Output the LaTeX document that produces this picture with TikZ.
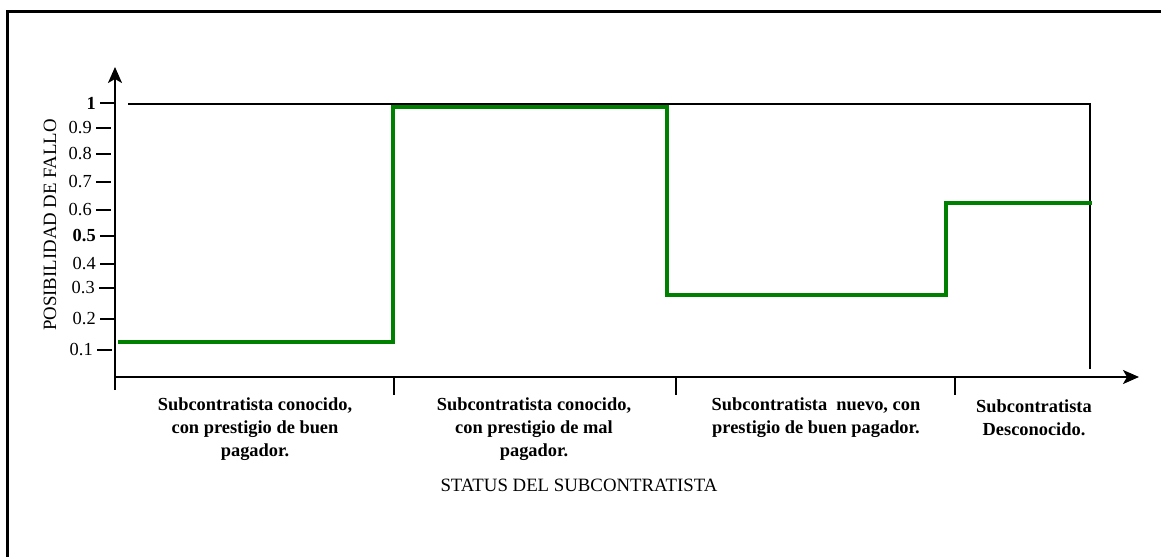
\documentclass[tikz,border=0pt]{standalone}
\usepackage{fontspec}
\setmainfont{Liberation Serif}
\usetikzlibrary{arrows.meta}
\definecolor{stepgreen}{RGB}{0,128,0}
\begin{document}
\begin{tikzpicture}[x=0.75pt,y=-0.75pt,
  frame/.style={line width=2pt},
  axisline/.style={line width=1.5pt,-{Stealth[length=12pt,width=10.5pt,inset=3pt]}},
  boxline/.style={line width=1.1pt},
  tickmark/.style={line width=1.5pt},
  ticklabel/.style={anchor=east,inner sep=0pt,font=\fontsize{13.8}{16}\selectfont},
  steps/.style={line width=3.4pt,stepgreen,line join=miter},
  catlabel/.style={align=center,font=\fontsize{13.8}{17}\selectfont\bfseries},
  axistitle/.style={font=\fontsize{14.1}{16}\selectfont}]
\useasboundingbox (0,0) rectangle (1161,557);

% outer frame (top and left edges)
\draw[frame] (7.3,557) -- (7.3,11.3) -- (1161,11.3);

% axes
\coordinate (O) at (115,377);
\coordinate (ytip) at (115,67);
\coordinate (xtip) at (1139,377);
\coordinate (ybase) at (115,390);
\draw[axisline] (ybase) -- (ytip);
\draw[axisline] (O) -- (xtip);

% upper limit line and right border of the plot
\coordinate (topL) at (128,104);
\coordinate (topR) at (1090,104);
\coordinate (rightB) at (1090,369);
\draw[boxline] (topL) -- (topR) -- (rightB);

% y ticks and labels
\foreach \yy/\lab/\xs in {103/\textbf{1}/100, 128/0.9/96, 154/0.8/96, 182/0.7/96, 210/0.6/96,
    236/\textbf{0.5}/100, 264/0.4/100, 288/0.3/99, 319/0.2/100, 350/0.1/97}{
  \draw[tickmark] (\xs,\yy) -- (\xs+15,\yy);
  \node[ticklabel] at (\xs-4,\yy) {\lab};
}

% x ticks
\foreach \xx in {394,676,955}{
  \draw[tickmark] (\xx,377) -- (\xx,395);
}

% failure-probability step line
\draw[steps] (118,342) -- (393,342) -- (393,107) -- (667,107) -- (667,295)
  -- (946,295) -- (946,203) -- (1092,203);

% category labels
\node[catlabel] (c1) at (255,429) {Subcontratista conocido,\\con prestigio de buen\\pagador.};
\node[catlabel] (c2) at (534,429) {Subcontratista conocido,\\con prestigio de mal\\pagador.};
\node[catlabel] (c3) at (816,417.5) {Subcontratista\ \ nuevo, con\\prestigio de buen pagador.};
\node[catlabel] (c4) at (1034,417.5) {Subcontratista\\Desconocido.};

% axis titles
\node[axistitle] (xt) at (579,485) {STATUS DEL SUBCONTRATISTA};
\node[axistitle,rotate=90] (yt) at (50,225) {POSIBILIDAD DE FALLO};
\end{tikzpicture}
\end{document}
